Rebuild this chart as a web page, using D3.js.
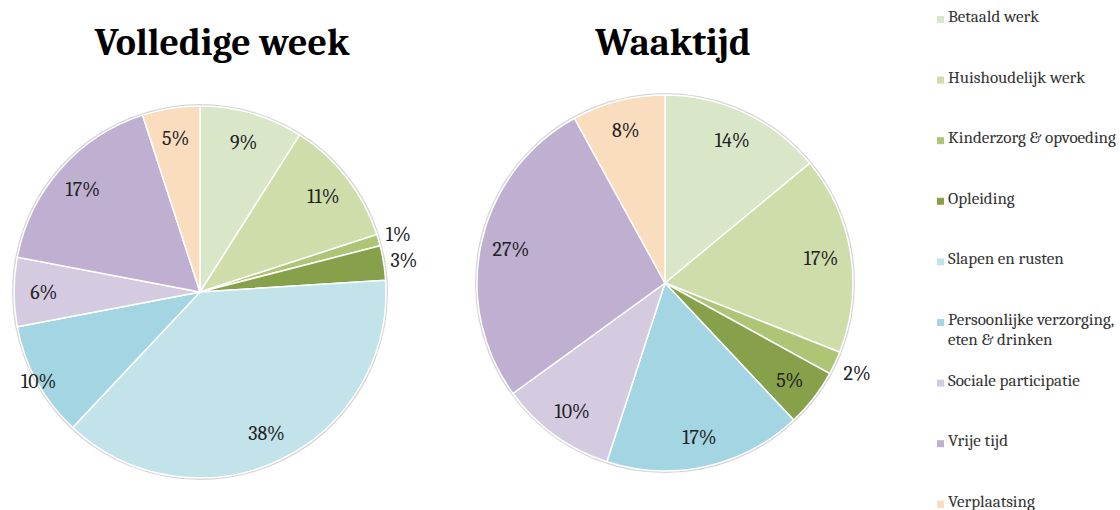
<!DOCTYPE html>
<html>
<head>
<meta charset="utf-8">
<script src="https://cdn.jsdelivr.net/npm/d3@7"></script>
<style>
  body { margin: 0; background: #fff; }
  svg { display: block; }
</style>
</head>
<body>
<div id="chart"></div>
<script>
    // categories and values (percent of time)
    var categories = ["Betaald werk", "Huishoudelijk werk", "Kinderzorg & opvoeding", "Opleiding",
        "Slapen en rusten", "Persoonlijke verzorging, eten & drinken", "Sociale participatie",
        "Vrije tijd", "Verplaatsing"];
    var legendLines = [["Betaald werk"], ["Huishoudelijk werk"], ["Kinderzorg & opvoeding"], ["Opleiding"],
        ["Slapen en rusten"], ["Persoonlijke verzorging,", "eten & drinken"], ["Sociale participatie"],
        ["Vrije tijd"], ["Verplaatsing"]];
    var colors = ["#d9e7c8", "#cfddab", "#afc576", "#87a04a", "#c2e3ea", "#a3d5e3", "#d4cbe1", "#bfb0d1", "#fadcbe"];

    var weekValues = [9, 11, 1, 3, 38, 10, 6, 17, 5];
    var wakeValues = [14, 17, 2, 5, 0, 17, 10, 27, 8];

    var titles = ["Volledige week", "Waaktijd"];

    var width = 1120, height = 510;
    var serif = "Cambria, 'Liberation Serif', 'DejaVu Serif', serif";

    var svg = d3.select("#chart").append("svg")
        .attr("width", width)
        .attr("height", height);

    var colorScale = d3.scaleOrdinal().domain(categories).range(colors);

    // label radius (fraction of r) per category; Excel "best fit" pushed one label to the rim
    var weekLabelFactor = [0.84, 0.84, 1.11, 1.11, 0.84, 0.99, 0.84, 0.84, 0.84];
    var wakeLabelFactor = [0.84, 0.84, 1.13, 0.84, 0.84, 0.84, 0.84, 0.84, 0.84];

    var charts = [
        {title: titles[0], values: weekValues, factors: weekLabelFactor, cx: 200, cy: 292, r: 186, titleX: 222},
        {title: titles[1], values: wakeValues, factors: wakeLabelFactor, cx: 665, cy: 283, r: 188, titleX: 673}
    ];

    var pie = d3.pie().sort(null).value(d => d.value);

    charts.forEach(function(c) {
        var data = categories.map((cat, i) => ({cat: cat, value: c.values[i], f: c.factors[i]}))
            .filter(d => d.value > 0);

        var g = svg.append("g")
            .attr("transform", "translate(" + c.cx + "," + c.cy + ")");

        var arc = d3.arc().innerRadius(0).outerRadius(c.r);

        // faint rim
        g.append("circle")
            .attr("r", c.r + 1)
            .attr("fill", "none")
            .attr("stroke", "#d6d6d6")
            .attr("stroke-width", 2);

        var arcs = pie(data);

        g.selectAll(".slice")
            .data(arcs)
            .enter().append("path")
            .attr("class", "slice")
            .attr("d", arc)
            .attr("fill", d => colorScale(d.data.cat))
            .attr("stroke", "#fff")
            .attr("stroke-width", 1.5);

        g.selectAll(".lbl")
            .data(arcs)
            .enter().append("text")
            .attr("class", "lbl")
            .attr("transform", function(d) {
                var lr = c.r * d.data.f;
                var p = d3.arc().innerRadius(lr).outerRadius(lr).centroid(d);
                return "translate(" + p + ")";
            })
            .attr("text-anchor", "middle")
            .attr("dy", "0.35em")
            .style("font-family", serif)
            .style("font-size", "20px")
            .style("fill", "#222")
            .text(d => d.data.value + "%");

        svg.append("text")
            .attr("x", c.titleX)
            .attr("y", 55)
            .attr("text-anchor", "middle")
            .style("font-family", serif)
            .style("font-weight", "bold")
            .style("font-size", "38px")
            .style("fill", "#000")
            .text(c.title);
    });

    // legend
    var legend = svg.selectAll(".legend")
        .data(categories)
        .enter().append("g")
        .attr("class", "legend")
        .attr("transform", (d, i) => "translate(937," + (22 + i * 60.6) + ")");

    legend.append("rect")
        .attr("x", 0)
        .attr("y", -6)
        .attr("width", 7)
        .attr("height", 7)
        .attr("fill", d => colorScale(d));

    legend.append("text")
        .attr("x", 11)
        .attr("y", 0)
        .attr("dy", "0.35em")
        .style("font-family", serif)
        .style("font-size", "17px")
        .style("fill", "#333")
        .selectAll("tspan")
        .data((d, i) => legendLines[i])
        .enter().append("tspan")
        .attr("x", 11)
        .attr("dy", (d, j) => j === 0 ? 0 : "1.15em")
        .text(d => d);
</script>
</body>
</html>
